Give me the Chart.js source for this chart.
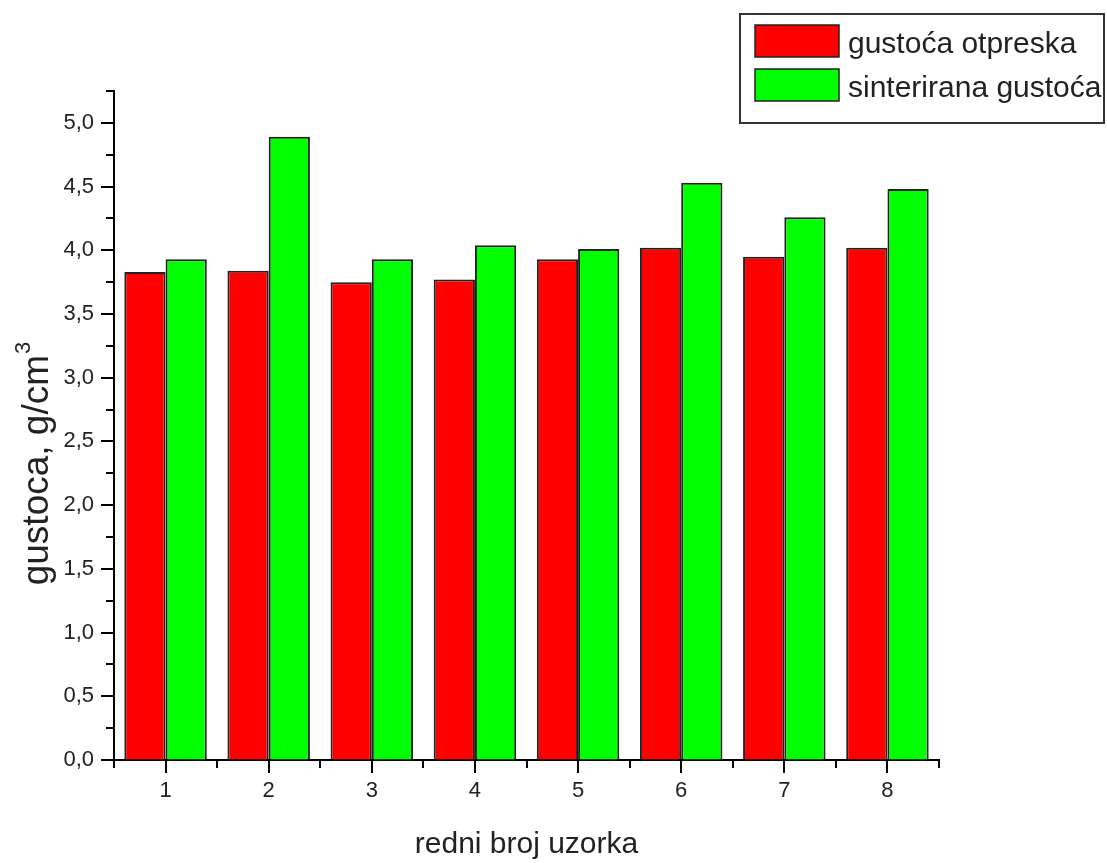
<!DOCTYPE html>
<html><head><meta charset="utf-8">
<script src="https://cdn.jsdelivr.net/npm/chart.js@4/dist/chart.umd.min.js"></script>
<style>html,body{margin:0;padding:0;background:#fff;} canvas{display:block}</style>
</head><body>
<canvas id="c" width="1107" height="863"></canvas>
<script>
// ---- data ----
const categories = ['1','2','3','4','5','6','7','8'];
const seriesNames = ['gustoća otpreska', 'sinterirana gustoća'];
const compactDensity = [3.83, 3.84, 3.75, 3.77, 3.93, 4.02, 3.95, 4.02];
const sinteredDensity = [3.93, 4.89, 3.93, 4.04, 4.01, 4.53, 4.26, 4.48];
const yMin = 0, yMax = 5.25, yStep = 0.25, yLabelStep = 0.5;
const xTitle = 'redni broj uzorka';
const yTitle = 'gustoca, g/cm';
const yTitleSup = '3';

const FONT = '"Liberation Sans", Arial, sans-serif';
const seriesColors = ['#ff0000', '#00ff00'];

const decor = {
  id: 'decor',
  afterDraw(chart) {
    const ctx = chart.ctx;
    const ys = chart.scales.y, xs = chart.scales.x;
    const ca = chart.chartArea;
    ctx.save();
    ctx.strokeStyle = '#000';
    ctx.lineWidth = 2;
    // y tick marks
    ys.ticks.forEach(t => {
      const y = Math.round(ys.getPixelForValue(t.value));
      const len = t.label ? 13 : 8;
      ctx.beginPath(); ctx.moveTo(ca.left - len, y); ctx.lineTo(ca.left, y); ctx.stroke();
    });
    // x tick marks
    for (let i = 0; i < categories.length; i++) {
      const x = Math.round(xs.getPixelForValue(i));
      ctx.beginPath(); ctx.moveTo(x, ca.bottom); ctx.lineTo(x, ca.bottom + 13); ctx.stroke();
    }
    for (let i = 0; i <= categories.length; i++) {
      const x = Math.round(xs.getPixelForValue(i - 0.5));
      ctx.beginPath(); ctx.moveTo(x, ca.bottom); ctx.lineTo(x, ca.bottom + 8); ctx.stroke();
    }
    // x title
    ctx.fillStyle = '#222';
    ctx.font = '30px ' + FONT;
    ctx.textAlign = 'center';
    ctx.textBaseline = 'alphabetic';
    ctx.fillText(xTitle, (ca.left + ca.right) / 2, 853);
    // y title
    ctx.save();
    ctx.translate(48, 464);
    ctx.rotate(-Math.PI / 2);
    ctx.font = '37px ' + FONT;
    const w1 = ctx.measureText(yTitle).width;
    ctx.font = '22px ' + FONT;
    const w2 = ctx.measureText(yTitleSup).width;
    const start = -(w1 + w2) / 2;
    ctx.textAlign = 'left';
    ctx.font = '37px ' + FONT;
    ctx.fillText(yTitle, start, 0);
    ctx.font = '22px ' + FONT;
    ctx.fillText(yTitleSup, start + w1 + 1, -18);
    ctx.restore();
    // legend
    ctx.lineWidth = 2;
    ctx.strokeStyle = '#333';
    ctx.strokeRect(740, 14, 364, 109);
    chart.data.datasets.forEach((ds, i) => {
      const top = 25 + i * 44;
      ctx.fillStyle = ds.backgroundColor;
      ctx.fillRect(755, top, 84, 32);
      ctx.lineWidth = 1.5;
      ctx.strokeStyle = '#222';
      ctx.strokeRect(755, top, 84, 32);
      ctx.fillStyle = '#222';
      ctx.font = '30px ' + FONT;
      ctx.textAlign = 'left';
      ctx.textBaseline = 'alphabetic';
      ctx.fillText(ds.label, 848, 53 + i * 44);
    });
    ctx.restore();
  }
};

new Chart(document.getElementById('c').getContext('2d'), {
  type: 'bar',
  data: {
    labels: categories,
    datasets: [
      { label: seriesNames[0], data: compactDensity, backgroundColor: seriesColors[0], borderColor: '#222', borderWidth: 2 },
      { label: seriesNames[1], data: sinteredDensity, backgroundColor: seriesColors[1], borderColor: '#222', borderWidth: 2 }
    ]
  },
  options: {
    responsive: false,
    animation: false,
    devicePixelRatio: 1,
    layout: { padding: { top: 91, right: 168, left: 0, bottom: 0 } },
    plugins: { legend: { display: false }, tooltip: { enabled: false } },
    datasets: { bar: { categoryPercentage: 0.8, barPercentage: 1.0 } },
    scales: {
      x: {
        offset: true,
        grid: { display: true, drawOnChartArea: false, drawTicks: false },
        border: { display: true, color: '#000', width: 2 },
        ticks: { font: { family: FONT, size: 22 }, color: '#222', padding: 18 },
        afterFit(s) { s.height = 103; }
      },
      y: {
        min: yMin, max: yMax,
        grid: { display: true, drawOnChartArea: false, drawTicks: false },
        border: { display: true, color: '#000', width: 2 },
        ticks: {
          stepSize: yStep, autoSkip: false,
          font: { family: FONT, size: 22 }, color: '#222', padding: 20,
          callback(v) {
            const r = v / yLabelStep;
            return Math.abs(r - Math.round(r)) < 1e-6 ? Number(v).toFixed(1).replace('.', ',') : '';
          }
        },
        afterFit(s) { s.width = 114; }
      }
    }
  },
  plugins: [decor]
});
</script>
</body></html>
